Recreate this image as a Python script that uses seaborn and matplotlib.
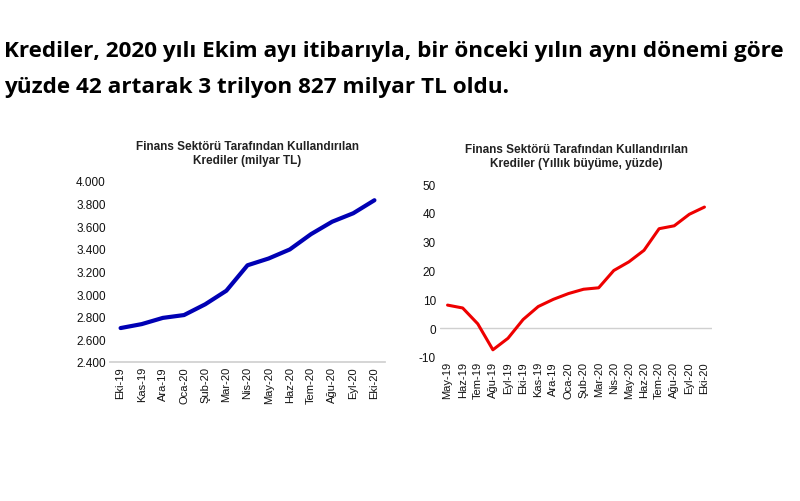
import matplotlib.pyplot as plt
import numpy as np
import pandas as pd
import seaborn as sns

left_months = ["Eki-19", "Kas-19", "Ara-19", "Oca-20", "Şub-20", "Mar-20", "Nis-20",
               "May-20", "Haz-20", "Tem-20", "Ağu-20", "Eyl-20", "Eki-20"]
left_values = [2700, 2735, 2790, 2815, 2910, 3030, 3255, 3315, 3395, 3530, 3640, 3715, 3830]

right_months = ["May-19", "Haz-19", "Tem-19", "Ağu-19", "Eyl-19", "Eki-19", "Kas-19",
                "Ara-19", "Oca-20", "Şub-20", "Mar-20", "Nis-20", "May-20", "Haz-20",
                "Tem-20", "Ağu-20", "Eyl-20", "Eki-20"]
right_values = [8, 7, 1.5, -7.5, -3.5, 3, 7.5, 10, 12, 13.5, 14, 20, 23, 27, 34.5, 35.5, 39.5, 42]

sns.set_theme(style="white")
plt.rcParams["font.family"] = ["Liberation Sans", "DejaVu Sans"]

fig = plt.figure(figsize=(8, 5.02), dpi=100)
W, H = 800, 502


def add_ax(x0, y0, x1, y1):
    return fig.add_axes([x0 / W, 1 - y1 / H, (x1 - x0) / W, (y1 - y0) / H])


for y, line in [(52, "Krediler, 2020 yılı Ekim ayı itibarıyla, bir önceki yılın aynı dönemi göre"),
                (88, "yüzde 42 artarak 3 trilyon 827 milyar TL oldu.")]:
    fig.text(4 / W, 1 - y / H, line, fontsize=16.2, fontweight="bold", color="black",
             family=["Open Sans", "DejaVu Sans"], va="center")

# Left chart
df_l = pd.DataFrame({"x": np.arange(len(left_months)), "y": left_values})
ax1 = add_ax(110, 182, 385, 363)
sns.lineplot(data=df_l, x="x", y="y", ax=ax1, color="#0000b4", linewidth=3)
ax1.set_xlim(-0.5, len(left_months) - 0.5)
ax1.set_ylim(2400, 4000)
ax1.set_yticks(range(2400, 4001, 200))
ax1.set_yticklabels([f"{v:,}".replace(",", ".") for v in range(2400, 4001, 200)], fontsize=8.5)
ax1.set_xticks(df_l["x"])
ax1.set_xticklabels(left_months, rotation=90, fontsize=8)
ax1.set_xlabel("")
ax1.set_ylabel("")
for s in ["top", "right", "left"]:
    ax1.spines[s].set_visible(False)
ax1.spines["bottom"].set_color("#d0d0d0")
ax1.tick_params(axis="both", length=0, pad=3, colors="#111111")
ax1.set_title("Finans Sektörü Tarafından Kullandırılan\nKrediler (milyar TL)",
              fontsize=8.5, fontweight="bold", pad=13, color="#222222")

# Right chart
df_r = pd.DataFrame({"x": np.arange(len(right_months)), "y": right_values})
ax2 = add_ax(440, 185, 712, 358)
sns.lineplot(data=df_r, x="x", y="y", ax=ax2, color="#ee0000", linewidth=2.2)
ax2.axhline(0, color="#d0d0d0", linewidth=1, zorder=0)
ax2.set_xlim(-0.5, len(right_months) - 0.5)
ax2.set_ylim(-10, 50)
ax2.set_yticks(range(-10, 51, 10))
ax2.set_yticklabels([str(v) for v in range(-10, 51, 10)], fontsize=8.5)
ax2.set_xticks(df_r["x"])
ax2.set_xticklabels(right_months, rotation=90, fontsize=8)
ax2.set_xlabel("")
ax2.set_ylabel("")
for s in ["top", "right", "left", "bottom"]:
    ax2.spines[s].set_visible(False)
ax2.tick_params(axis="both", length=0, pad=3, colors="#111111")
ax2.set_title("Finans Sektörü Tarafından Kullandırılan\nKrediler (Yıllık büyüme, yüzde)",
              fontsize=8.5, fontweight="bold", pad=13, color="#222222")

fig.savefig("out.png", dpi=100)
